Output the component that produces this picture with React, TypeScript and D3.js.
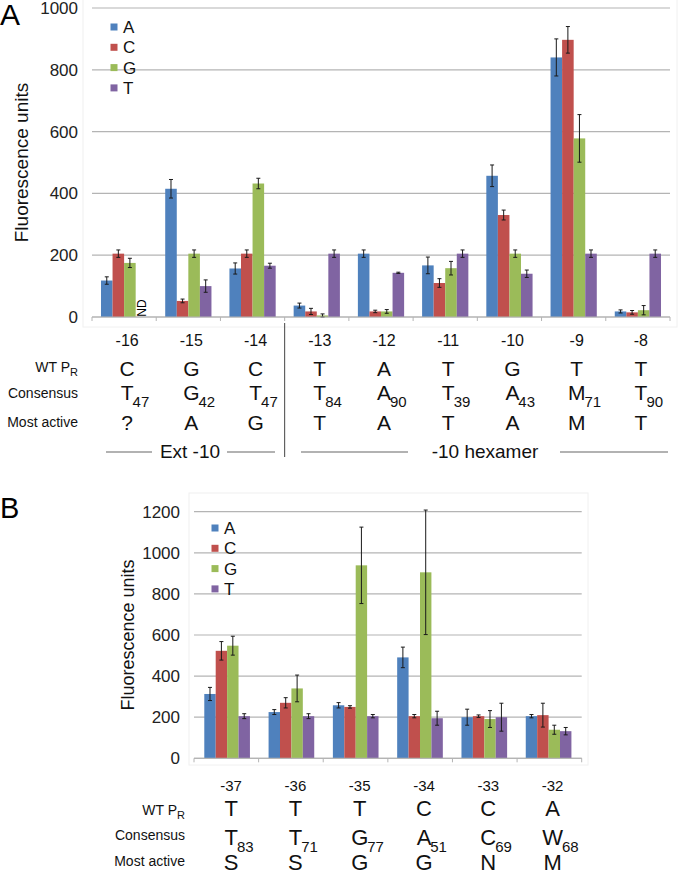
import React from 'react';
import * as d3 from 'd3';

// Panel A: -10 region
const catsA = ['-16', '-15', '-14', '-13', '-12', '-11', '-10', '-9', '-8'];
const valA_A = [118, 415, 157, 37, 205, 167, 457, 840, 18];
const valA_C = [205, 52, 205, 18, 18, 110, 330, 897, 15];
const valA_G = [175, 205, 432, 5, 18, 158, 205, 578, 22];
const valA_T = [null, 100, 166, 205, 143, 205, 140, 205, 205];
const errA_A = [12, 30, 18, 8, 12, 27, 35, 60, 5];
const errA_C = [12, 6, 12, 10, 4, 14, 16, 43, 6];
const errA_G = [15, 12, 17, 5, 6, 22, 12, 77, 15];
const errA_T = [0, 20, 8, 12, 2, 12, 12, 12, 12];
const ticksA = [0, 200, 400, 600, 800, 1000];
const wtA = ['C', 'G', 'C', 'T', 'A', 'T', 'G', 'T', 'T'];
const consA = ['T', 'G', 'T', 'T', 'A', 'T', 'A', 'M', 'T'];
const consSubA = ['47', '42', '47', '84', '90', '39', '43', '71', '90'];
const activeA = ['?', 'A', 'G', 'T', 'A', 'T', 'A', 'M', 'T'];

// Panel B: -35 region
const catsB = ['-37', '-36', '-35', '-34', '-33', '-32'];
const valB_A = [313, 225, 258, 491, 200, 205];
const valB_C = [523, 270, 250, 205, 205, 210];
const valB_G = [548, 340, 939, 905, 191, 139];
const valB_T = [205, 205, 205, 195, 200, 132];
const errB_A = [32, 12, 13, 50, 39, 8];
const errB_C = [45, 25, 6, 8, 6, 58];
const errB_G = [46, 65, 186, 303, 41, 22];
const errB_T = [12, 12, 8, 34, 68, 18];
const ticksB = [0, 200, 400, 600, 800, 1000, 1200];
const wtB = ['T', 'T', 'T', 'C', 'C', 'A'];
const consB = ['T', 'T', 'G', 'A', 'C', 'W'];
const consSubB = ['83', '71', '77', '51', '69', '68'];
const activeB = ['S', 'S', 'G', 'G', 'N', 'M'];

const bases = ['A', 'C', 'G', 'T'];
const colors: Record<string, string> = { A: '#4f81bd', C: '#c0504d', G: '#9bbb59', T: '#8064a2' };
const FONT = '"Liberation Sans", Arial, sans-serif';
const halfW: Record<string, number> = { T: 0.31, A: 0.33, G: 0.39, M: 0.42, W: 0.47, C: 0.36 };

interface BarPanelProps {
  cats: string[];
  values: (number | null)[][];
  errors: number[][];
  ticks: number[];
  xRange: [number, number];
  yRange: [number, number];
  maxY: number;
  padIn: number;
  padOut: number;
  tickFont: number;
  titleFont: number;
  titleX: number;
  legendX: number;
  legendY: number;
}

function BarPanel(p: BarPanelProps) {
  const x = d3.scaleBand<string>().domain(p.cats).range(p.xRange).paddingInner(p.padIn).paddingOuter(p.padOut);
  const sub = d3.scaleBand<string>().domain(bases).range([0, x.bandwidth()]);
  const y = d3.scaleLinear().domain([0, p.maxY]).range(p.yRange);
  const n = p.cats.length;
  const bounds = d3.range(n + 1).map(i => p.xRange[0] + (i * (p.xRange[1] - p.xRange[0])) / n);
  const y0 = y(0);
  return (
    <g>
      {p.ticks.map(t => (
        <g key={t}>
          <line x1={p.xRange[0]} x2={p.xRange[1]} y1={y(t)} y2={y(t)} stroke="#b4b4b4" strokeWidth={1.2} />
          <text x={p.xRange[0] - 14} y={y(t)} dy="0.35em" textAnchor="end" fontSize={p.tickFont} fill="#222">{t}</text>
        </g>
      ))}
      {bounds.map((b, i) => (
        <line key={i} x1={b} x2={b} y1={y0} y2={y0 + 4} stroke="#b4b4b4" strokeWidth={1} />
      ))}
      {p.cats.map((c, i) => (
        <g key={c} transform={`translate(${x(c)},0)`}>
          {bases.map((b, j) => {
            const v = p.values[j][i];
            if (v === null) return null;
            const e = p.errors[j][i];
            const bx = sub(b)!;
            const cx = bx + sub.bandwidth() / 2;
            return (
              <g key={b}>
                <rect x={bx} y={y(v)} width={sub.bandwidth()} height={y0 - y(v)} fill={colors[b]} />
                {e > 0 && (
                  <g stroke="#1a1a1a" strokeWidth={1}>
                    <line x1={cx} x2={cx} y1={y(v + e)} y2={y(Math.max(0, v - e))} />
                    <line x1={cx - 2} x2={cx + 2} y1={y(v + e)} y2={y(v + e)} />
                    <line x1={cx - 2} x2={cx + 2} y1={y(Math.max(0, v - e))} y2={y(Math.max(0, v - e))} />
                  </g>
                )}
              </g>
            );
          })}
          {p.values[3][i] === null && (
            <text transform={`translate(${sub('T')! + sub.bandwidth() / 2 + 5},${y0 - 9}) rotate(-90)`} textAnchor="middle" fontSize={12} fill="#000">ND</text>
          )}
        </g>
      ))}
      <line x1={p.xRange[0]} x2={p.xRange[1]} y1={y0} y2={y0} stroke="#b4b4b4" strokeWidth={1.2} />
      <text transform={`translate(${p.titleX},${(p.yRange[0] + p.yRange[1]) / 2}) rotate(-90)`} textAnchor="middle" fontSize={p.titleFont} fill="#111">Fluorescence units</text>
      {bases.map((b, i) => (
        <g key={b} transform={`translate(${p.legendX},${p.legendY + i * 20.3})`}>
          <rect x={-3.5} y={-3.5} width={7} height={7} fill={colors[b]} />
          <text x={9} y={0} dy="0.36em" fontSize={17} fill="#111">{b}</text>
        </g>
      ))}
    </g>
  );
}

interface TableProps {
  cats: string[];
  centers: number[];
  wt: string[];
  cons: string[];
  consSub: string[];
  active: string[];
  labelX: number;
  catY: number;
  rowY: [number, number, number];
  labelY: [number, number, number];
  catFont: number;
  letterFont: number;
  subFont: number;
}

function SeqTable(t: TableProps) {
  return (
    <g fill="#111">
      <text x={t.labelX} y={t.labelY[0]} textAnchor="end" fontSize={14}>
        WT P<tspan fontSize={11} dy={4}>R</tspan>
      </text>
      <text x={t.labelX} y={t.labelY[1]} textAnchor="end" fontSize={14}>Consensus</text>
      <text x={t.labelX} y={t.labelY[2]} textAnchor="end" fontSize={14}>Most active</text>
      {t.cats.map((c, i) => {
        const cx = t.centers[i];
        const hw = (halfW[t.cons[i]] ?? 0.33) * t.letterFont;
        return (
          <g key={c}>
            <text x={cx} y={t.catY} textAnchor="middle" fontSize={t.catFont}>{c}</text>
            <text x={cx} y={t.rowY[0]} textAnchor="middle" fontSize={t.letterFont}>{t.wt[i]}</text>
            <text x={cx} y={t.rowY[1]} textAnchor="middle" fontSize={t.letterFont}>{t.cons[i]}</text>
            <text x={cx + hw - 1} y={t.rowY[1] + 7} fontSize={t.subFont}>{t.consSub[i]}</text>
            <text x={cx} y={t.rowY[2]} textAnchor="middle" fontSize={t.letterFont}>{t.active[i]}</text>
          </g>
        );
      })}
    </g>
  );
}

export default function App() {
  const xRangeA: [number, number] = [92, 670];
  const xRangeB: [number, number] = [194, 581.7];
  const xA = d3.scaleBand<string>().domain(catsA).range(xRangeA).paddingInner(0.28).paddingOuter(0.14);
  const xB = d3.scaleBand<string>().domain(catsB).range(xRangeB).paddingInner(0.29).paddingOuter(0.16);
  const centersA = catsA.map(c => xA(c)! + xA.bandwidth() / 2 + 3);
  const centersB = catsB.map(c => xB(c)! + xB.bandwidth() / 2 + 4);
  const divX = (xA('-14')! + xA.bandwidth() + xA('-13')!) / 2;

  return (
    <svg width={680} height={874} viewBox="0 0 680 874" style={{ position: 'absolute', left: 0, top: 0, background: '#fff' }} fontFamily={FONT}>
      <rect x={0} y={0} width={680} height={874} fill="#fff" />
      {/* panel frames */}
      <rect x={83} y={-2} width={594} height={329} fill="none" stroke="#f0f0f0" strokeWidth={1} />
      <rect x={189} y={493} width={399} height={272} fill="none" stroke="#f0f0f0" strokeWidth={1} />

      <text x={0} y={25} fontSize={30} fill="#000">A</text>
      <BarPanel
        cats={catsA}
        values={[valA_A, valA_C, valA_G, valA_T]}
        errors={[errA_A, errA_C, errA_G, errA_T]}
        ticks={ticksA}
        xRange={xRangeA}
        yRange={[317, 8]}
        maxY={1000}
        padIn={0.28}
        padOut={0.14}
        tickFont={17}
        titleFont={19}
        titleX={28}
        legendX={114}
        legendY={27}
      />
      <SeqTable
        cats={catsA}
        centers={centersA}
        wt={wtA}
        cons={consA}
        consSub={consSubA}
        active={activeA}
        labelX={78}
        catY={346}
        rowY={[376, 400, 430]}
        labelY={[372, 398, 427]}
        catFont={16}
        letterFont={21}
        subFont={15}
      />
      <line x1={divX} x2={divX} y1={323} y2={457} stroke="#444" strokeWidth={1} />
      <g stroke="#999" strokeWidth={1.5}>
        <line x1={106} x2={152} y1={452} y2={452} />
        <line x1={227} x2={275} y1={452} y2={452} />
        <line x1={301} x2={408} y1={452} y2={452} />
        <line x1={560} x2={668} y1={452} y2={452} />
      </g>
      <text x={190} y={458} textAnchor="middle" fontSize={19} fill="#111">Ext -10</text>
      <text x={485} y={458} textAnchor="middle" fontSize={19} fill="#111">-10 hexamer</text>

      <text x={0} y={518} fontSize={29} fill="#000">B</text>
      <BarPanel
        cats={catsB}
        values={[valB_A, valB_C, valB_G, valB_T]}
        errors={[errB_A, errB_C, errB_G, errB_T]}
        ticks={ticksB}
        xRange={xRangeB}
        yRange={[758.3, 511.7]}
        maxY={1200}
        padIn={0.29}
        padOut={0.16}
        tickFont={17}
        titleFont={18}
        titleX={134}
        legendX={215}
        legendY={528}
      />
      <SeqTable
        cats={catsB}
        centers={centersB}
        wt={wtB}
        cons={consB}
        consSub={consSubB}
        active={activeB}
        labelX={185}
        catY={791}
        rowY={[816, 845, 870]}
        labelY={[815, 840, 866]}
        catFont={15}
        letterFont={22}
        subFont={15}
      />
    </svg>
  );
}
